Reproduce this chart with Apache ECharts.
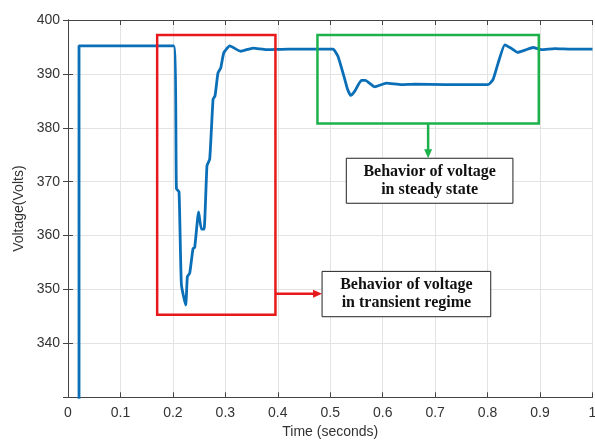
<!DOCTYPE html>
<html>
<head>
<meta charset="utf-8">
<script src="https://cdn.jsdelivr.net/npm/echarts@6/dist/echarts.min.js"></script>
<style>
html, body { margin: 0; padding: 0; background: #fff; }
#chart { width: 595px; height: 441px; }
</style>
</head>
<body>
<div id="chart"></div>
<script>
// time (s) and DC bus voltage (V)
var timeS = [0.021, 0.021, 0.10, 0.2016, 0.2067, 0.2117, 0.2162, 0.2244, 0.2276, 0.232, 0.2384, 0.2416,
    0.249, 0.2543, 0.2594, 0.265, 0.2702, 0.2766, 0.2803, 0.286, 0.2912, 0.297, 0.3084, 0.3288,
    0.3528, 0.378, 0.42, 0.48, 0.5054, 0.515, 0.5277, 0.5328, 0.539, 0.5467, 0.5594, 0.567,
    0.5849, 0.607, 0.6357, 0.661, 0.72, 0.78, 0.801, 0.8105, 0.82, 0.8328, 0.8442, 0.857,
    0.8709, 0.8867, 0.9028, 0.928, 0.96, 1.0];
var voltageV = [0, 395.2, 395.2, 395.2, 368.7, 368.1, 350.9, 347.1, 352.4, 353.0, 357.6, 357.8,
    364.4, 361.2, 361.2, 373.0, 374.2, 385.3, 385.9, 390.2, 391.1, 393.9, 395.2, 394.2,
    394.8, 394.5, 394.6, 394.6, 394.6, 393.2, 389.0, 387.2, 386.0, 386.8, 388.8, 388.8,
    387.6, 388.3, 388.0, 388.1, 388.0, 388.0, 388.0, 389.0, 392.0, 395.4, 394.8, 394.0,
    394.4, 394.9, 394.5, 394.7, 394.6, 394.6];

// annotation boxes in data units: [t1, v1, t2, v2]
var transientBox = [0.170, 345.3, 0.3955, 397.2];
var steadyBox = [0.4756, 380.8, 0.8976, 397.2];
var transientNote = [0.4844, 344.95, 0.806, 353.36];
var steadyNote = [0.5306, 366.0, 0.8483, 374.35];
var transientText = 'Behavior of voltage\nin transient regime';
var steadyText = 'Behavior of voltage\nin steady state';

var lineData = timeS.map(function (t, i) { return [t, voltageV[i]]; });

var axisColor = '#444';
var myChart = echarts.init(document.getElementById('chart'));

var option = {
    animation: false,
    grid: { left: 68, right: 2.5, top: 20, bottom: 43.7, outerBoundsMode: 'none', containLabel: false },
    xAxis: [{
        type: 'value', min: 0, max: 1, interval: 0.1,
        name: 'Time (seconds)', nameLocation: 'middle', nameGap: 28,
        nameTextStyle: { fontFamily: 'Liberation Sans', fontSize: 14, color: '#333' },
        axisLine: { show: true, lineStyle: { color: axisColor } },
        axisTick: { show: true, inside: true, length: 5, lineStyle: { color: axisColor } },
        axisLabel: { fontFamily: 'Liberation Sans', fontSize: 14, color: '#333', margin: 9 },
        splitLine: { show: true, lineStyle: { color: '#e3e3e3' } }
    }, {
        type: 'value', min: 0, max: 1, interval: 0.1, position: 'top',
        axisLine: { show: true, lineStyle: { color: axisColor } },
        axisTick: { show: true, inside: true, length: 5, lineStyle: { color: axisColor } },
        axisLabel: { show: false },
        splitLine: { show: false }
    }],
    yAxis: [{
        type: 'value', min: 330, max: 400, interval: 10,
        name: 'Voltage(Volts)', nameLocation: 'middle', nameGap: 41,
        nameTextStyle: { fontFamily: 'Liberation Sans', fontSize: 14, color: '#333' },
        axisLine: { show: true, lineStyle: { color: axisColor } },
        axisTick: { show: true, inside: true, length: 5, lineStyle: { color: axisColor } },
        axisLabel: { fontFamily: 'Liberation Sans', fontSize: 14, color: '#333', margin: 8,
            formatter: function (v) { return v === 330 ? '' : v; } },
        splitLine: { show: true, lineStyle: { color: '#e3e3e3' } }
    }, {
        type: 'value', min: 330, max: 400, interval: 10, position: 'right',
        axisLine: { show: true, lineStyle: { color: axisColor } },
        axisTick: { show: true, inside: true, length: 5, lineStyle: { color: axisColor } },
        axisLabel: { show: false },
        splitLine: { show: false }
    }],
    series: [{
        type: 'line',
        data: lineData,
        showSymbol: false,
        smooth: 0.15,
        clip: true,
        lineStyle: { color: '#0b6fb8', width: 2.8 },
        z: 3
    }]
};

myChart.setOption(option);

function px(t, v) {
    return myChart.convertToPixel({ gridIndex: 0 }, [t, v]);
}

function boxRect(b, stroke, lw, fill) {
    var p1 = px(b[0], b[3]);
    var p2 = px(b[2], b[1]);
    return {
        type: 'rect', z: 10,
        shape: { x: p1[0], y: p1[1], width: p2[0] - p1[0], height: p2[1] - p1[1] },
        style: { fill: fill || 'none', stroke: stroke, lineWidth: lw }
    };
}

function noteText(b, text) {
    var p1 = px(b[0], b[3]);
    var p2 = px(b[2], b[1]);
    return {
        type: 'text', z: 12,
        x: (p1[0] + p2[0]) / 2, y: (p1[1] + p2[1]) / 2,
        style: {
            text: text, fill: '#111', align: 'center', verticalAlign: 'middle',
            font: 'bold 16px "Liberation Serif", "Times New Roman", serif', lineHeight: 18
        }
    };
}

// red arrow from transient box to its note
var rStart = px(transientBox[2], 349.2);
var rEnd = px(transientNote[0], 349.2);
// green arrow from steady box to its note
var gStart = px((steadyBox[0] + steadyBox[2]) / 2, steadyBox[1]);
var gEnd = px((steadyBox[0] + steadyBox[2]) / 2, steadyNote[3]);

var graphics = [
    boxRect(transientBox, '#e8191c', 2.5),
    boxRect(steadyBox, '#1db14b', 2.5),
    boxRect(transientNote, '#222', 1, '#fff'),
    boxRect(steadyNote, '#222', 1, '#fff'),
    noteText(transientNote, transientText),
    noteText(steadyNote, steadyText),
    { type: 'line', z: 10, shape: { x1: rStart[0], y1: rStart[1], x2: rEnd[0] - 7, y2: rEnd[1] },
      style: { stroke: '#e8191c', lineWidth: 2.5 } },
    { type: 'polygon', z: 10, shape: { points: [[rEnd[0] - 9, rEnd[1] - 4], [rEnd[0], rEnd[1]], [rEnd[0] - 9, rEnd[1] + 4]] },
      style: { fill: '#e8191c' } },
    { type: 'line', z: 10, shape: { x1: gStart[0], y1: gStart[1], x2: gEnd[0], y2: gEnd[1] - 7 },
      style: { stroke: '#1db14b', lineWidth: 2.5 } },
    { type: 'polygon', z: 10, shape: { points: [[gEnd[0] - 4, gEnd[1] - 9], [gEnd[0], gEnd[1]], [gEnd[0] + 4, gEnd[1] - 9]] },
      style: { fill: '#1db14b' } }
];

myChart.setOption({ graphic: graphics });
</script>
</body>
</html>
